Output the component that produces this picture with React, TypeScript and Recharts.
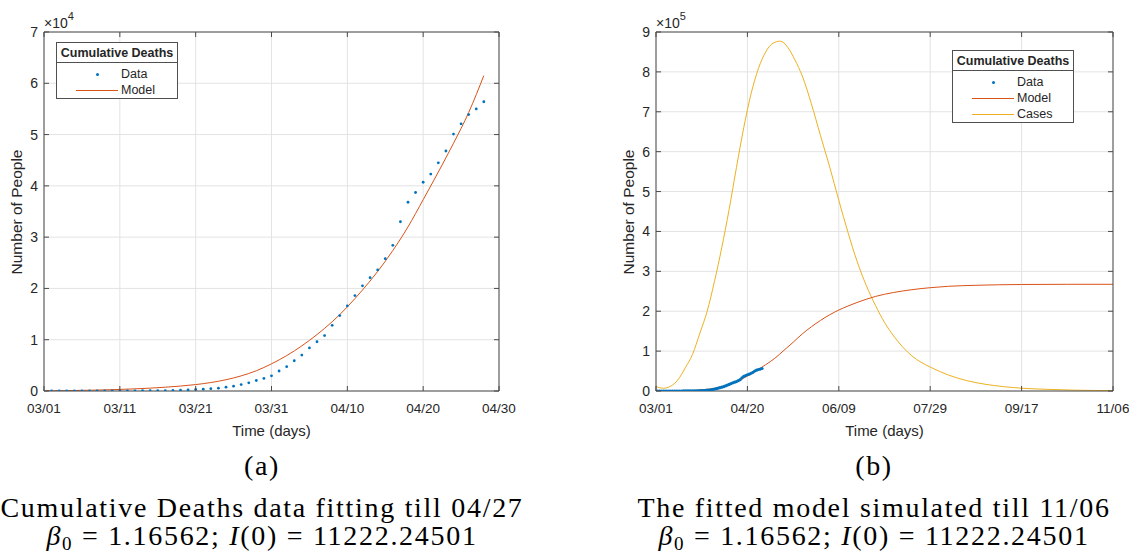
import React from "react";
import { ComposedChart, Line, XAxis, YAxis, CartesianGrid } from "recharts";

// cumulative deaths, one value per day starting 03/02 (day 1)
const DEATHS = [
  1, 6, 9, 11, 12, 15, 19, 22, 26, 30, 38, 41, 48, 57, 68, 86, 109, 150, 206,
  300, 350, 450, 550, 750, 950, 1250, 1600, 2050, 2450, 2950, 3900, 4750, 5900,
  7000, 8400, 9600, 10800, 12800, 14700, 16600, 18600, 20500, 22100, 23600,
  25800, 28400, 33000, 36800, 38700, 40700, 42300, 44500, 46800, 50100, 52100,
  53900, 55000, 56400,
];

// fitted model, panel (a)
const FIT_DAYS = [0, 2, 4, 6, 8, 10, 12, 14, 16, 18, 20, 22, 24, 26, 28, 30, 32, 34, 36, 38, 40, 42, 44, 46, 48, 50, 52, 54, 56, 58];
const FIT_DEATHS = [
  30, 60, 100, 150, 220, 310, 420, 560, 740, 960, 1250, 1650, 2200, 2950, 3950,
  5300, 6900, 8800, 11000, 13500, 16400, 19700, 23300, 27400, 32000, 37300,
  42700, 48300, 54300, 61500,
];

// simulated model, panel (b)
const SIM_DAYS = [0, 10, 20, 25, 30, 35, 40, 45, 50, 55, 60, 65, 70, 75, 80, 85, 90, 95, 100, 105, 110, 115, 120, 130, 140, 150, 160, 175, 200, 225, 250];
const SIM_DEATHS = [
  0, 300, 1200, 2900, 5300, 9900, 16400, 25300, 37500, 51000, 66000, 82000,
  102000, 122000, 143000, 161000, 177000, 191000, 203000, 213000, 222000,
  230000, 237000, 247000, 254000, 259000, 262500, 265000, 267000, 267500, 267500,
];

const CASE_DAYS = [0, 4, 8, 12, 16, 20, 24, 28, 32, 36, 40, 44, 48, 52, 56, 60, 64, 68, 72, 76, 80, 85, 90, 95, 100, 105, 110, 115, 120, 125, 130, 135, 140, 145, 150, 160, 170, 180, 190, 200, 215, 230, 250];
const CASES = [
  11000, 7000, 12000, 28000, 58000, 92000, 145000, 200000, 275000, 360000,
  455000, 560000, 660000, 745000, 808000, 850000, 872000, 877000, 862000,
  830000, 790000, 720000, 640000, 562000, 478000, 398000, 325000, 265000,
  215000, 172000, 138000, 110000, 88000, 72000, 60000, 40000, 26000, 17000,
  11000, 7000, 4000, 2000, 1000,
];

const A_X_TICKS = [0, 10, 20, 30, 40, 50, 60];
const A_X_LABELS = ["03/01", "03/11", "03/21", "03/31", "04/10", "04/20", "04/30"];
const A_Y_TICKS = [0, 10000, 20000, 30000, 40000, 50000, 60000, 70000];

const B_X_TICKS = [0, 50, 100, 150, 200, 250];
const B_X_LABELS = ["03/01", "04/20", "06/09", "07/29", "09/17", "11/06"];
const B_Y_TICKS = [0, 100000, 200000, 300000, 400000, 500000, 600000, 700000, 800000, 900000];

const BLUE = "#0072BD";
const ORANGE = "#D95319";
const YELLOW = "#EDB120";
const AXIS = "#4a4a4a";
const TXT = "#262626";
const GRID = "#e3e3e3";
const SANS = "'Liberation Sans', Arial, sans-serif";
const SERIF = "'Liberation Serif', 'Times New Roman', serif";

const dataRows = DEATHS.map((v, i) => ({ day: i + 1, deaths: v }));
const fitRows = FIT_DAYS.map((d, i) => ({ day: d, model: FIT_DEATHS[i] }));
const simRows = SIM_DAYS.map((d, i) => ({ day: d, model: SIM_DEATHS[i] }));
const caseRows = CASE_DAYS.map((d, i) => ({ day: d, cases: CASES[i] }));

const TICK_LEN = 5;

function bottomTick(ticks: number[], labels: string[]) {
  return (p: any) => {
    const i = ticks.indexOf(p.payload.value);
    return (
      <g>
        <line x1={p.x} x2={p.x} y1={p.y} y2={p.y - TICK_LEN} stroke={AXIS} />
        <text x={p.x} y={p.y + 22} textAnchor="middle" fontSize={13.5} fill={TXT} fontFamily={SANS}>
          {labels[i]}
        </text>
      </g>
    );
  };
}

function topTick(p: any) {
  return <line x1={p.x} x2={p.x} y1={p.y} y2={p.y + TICK_LEN} stroke={AXIS} />;
}

function leftTick(div: number) {
  return (p: any) => (
    <g>
      <line x1={p.x} x2={p.x + TICK_LEN} y1={p.y} y2={p.y} stroke={AXIS} />
      <text x={p.x - 6} y={p.y + 5} textAnchor="end" fontSize={14} fill={TXT} fontFamily={SANS}>
        {p.payload.value / div}
      </text>
    </g>
  );
}

function rightTick(p: any) {
  return <line x1={p.x - TICK_LEN} x2={p.x} y1={p.y} y2={p.y} stroke={AXIS} />;
}

type LegendItem = { label: string; color: string; kind: "dot" | "line" };

function LegendBox({ left, top, items }: { left: number; top: number; items: LegendItem[] }) {
  const titleH = 20;
  return (
    <div
      style={{
        position: "absolute",
        left,
        top,
        width: 122,
        height: titleH + 16 * items.length + 5,
        border: "1px solid #505050",
        background: "#fff",
        fontFamily: SANS,
        color: TXT,
        boxSizing: "border-box",
      }}
    >
      <div
        style={{
          height: titleH,
          lineHeight: titleH + "px",
          textAlign: "center",
          fontWeight: "bold",
          fontSize: 12.5,
          borderBottom: "1px solid #505050",
          boxSizing: "border-box",
          whiteSpace: "nowrap",
        }}
      >
        Cumulative Deaths
      </div>
      {items.map((it, i) => (
        <div key={it.label} style={{ position: "absolute", left: 0, top: titleH + 3 + 16 * i, height: 16, width: "100%" }}>
          {it.kind === "dot" ? (
            <span style={{ position: "absolute", left: 39, top: 6.5, width: 3, height: 3, borderRadius: 2, background: it.color }} />
          ) : (
            <span style={{ position: "absolute", left: 19, top: 7.5, width: 42, height: 1, background: it.color }} />
          )}
          <span style={{ position: "absolute", left: 64, top: 0, lineHeight: "16px", fontSize: 12.5 }}>{it.label}</span>
        </div>
      ))}
    </div>
  );
}

function AxisTitles({ plotLeft, plotRight }: { plotLeft: number; plotRight: number }) {
  return (
    <>
      <div
        style={{
          position: "absolute",
          left: (plotLeft + plotRight) / 2,
          top: 430,
          transform: "translate(-50%, -50%)",
          fontFamily: SANS,
          fontSize: 15,
          color: TXT,
          whiteSpace: "nowrap",
          lineHeight: 1,
        }}
      >
        Time (days)
      </div>
      <div
        style={{
          position: "absolute",
          left: plotLeft - 27,
          top: 211.5,
          transform: "translate(-50%, -50%) rotate(-90deg)",
          fontFamily: SANS,
          fontSize: 15.5,
          color: TXT,
          whiteSpace: "nowrap",
          lineHeight: 1,
        }}
      >
        Number of People
      </div>
    </>
  );
}

function Exponent({ left, power }: { left: number; power: number }) {
  return (
    <div style={{ position: "absolute", left, top: 16, fontFamily: SANS, fontSize: 14, color: TXT, lineHeight: 1, whiteSpace: "nowrap" }}>
      ×10<span style={{ fontSize: 11, position: "relative", top: -8 }}>{power}</span>
    </div>
  );
}

function Caption({ cx, tag, line }: { cx: number; tag: string; line: string }) {
  const base: React.CSSProperties = {
    position: "absolute",
    left: cx,
    transform: "translateX(-50%)",
    fontFamily: SERIF,
    fontSize: 28,
    lineHeight: "30px",
    height: 30,
    color: "#000",
    whiteSpace: "nowrap",
    letterSpacing: 1.7,
  };
  return (
    <>
      <div style={{ ...base, top: 451 }}>{tag}</div>
      <div style={{ ...base, top: 493 }}>{line}</div>
      <div style={{ ...base, top: 521 }}>
        <i>β</i>
        <span style={{ fontSize: 19, position: "relative", top: 5 }}>0</span> = 1.16562; <i>I</i>(0) = 11222.24501
      </div>
    </>
  );
}

function Frame({ xMax, xTicks, xLabels, yMax, yTicks, div }: any) {
  return [
    <CartesianGrid key="g" stroke={GRID} strokeWidth={1} />,
    <XAxis
      key="xb"
      xAxisId={0}
      type="number"
      dataKey="day"
      domain={[0, xMax]}
      ticks={xTicks}
      height={1}
      tickSize={0}
      tickMargin={0}
      tickLine={false}
      axisLine={{ stroke: AXIS }}
      tick={bottomTick(xTicks, xLabels)}
      interval={0}
      allowDataOverflow
    />,
    <XAxis
      key="xt"
      xAxisId="top"
      orientation="top"
      type="number"
      dataKey="day"
      domain={[0, xMax]}
      ticks={xTicks}
      height={1}
      tickSize={0}
      tickMargin={0}
      tickLine={false}
      axisLine={{ stroke: AXIS }}
      tick={topTick}
      interval={0}
      allowDataOverflow
    />,
    <YAxis
      key="yl"
      yAxisId={0}
      type="number"
      domain={[0, yMax]}
      ticks={yTicks}
      width={1}
      tickSize={0}
      tickMargin={0}
      tickLine={false}
      axisLine={{ stroke: AXIS }}
      tick={leftTick(div)}
      interval={0}
      allowDataOverflow
    />,
    <YAxis
      key="yr"
      yAxisId="right"
      orientation="right"
      type="number"
      domain={[0, yMax]}
      ticks={yTicks}
      width={1}
      tickSize={0}
      tickMargin={0}
      tickLine={false}
      axisLine={{ stroke: AXIS }}
      tick={rightTick}
      interval={0}
      allowDataOverflow
    />,
  ];
}

export default function App() {
  return (
    <div style={{ position: "absolute", left: 0, top: 0, width: 1129, height: 558, background: "#fff", overflow: "hidden" }}>
      {/* panel (a) */}
      <div style={{ position: "absolute", left: 0, top: 0 }}>
        <ComposedChart width={520} height={440} margin={{ top: 31, left: 43, right: 20, bottom: 48 }}>
          {Frame({ xMax: 60, xTicks: A_X_TICKS, xLabels: A_X_LABELS, yMax: 70000, yTicks: A_Y_TICKS, div: 10000 })}
          <Line
            data={fitRows}
            dataKey="model"
            type="monotone"
            stroke={ORANGE}
            strokeWidth={1}
            dot={false}
            isAnimationActive={false}
          />
          <Line
            data={dataRows}
            dataKey="deaths"
            stroke="none"
            dot={{ r: 1.4, fill: BLUE, stroke: "none" }}
            isAnimationActive={false}
          />
        </ComposedChart>
      </div>
      <Exponent left={44} power={4} />
      <AxisTitles plotLeft={44} plotRight={499} />
      <LegendBox
        left={56}
        top={42}
        items={[
          { label: "Data", color: BLUE, kind: "dot" },
          { label: "Model", color: ORANGE, kind: "line" },
        ]}
      />

      {/* panel (b) */}
      <div style={{ position: "absolute", left: 560, top: 0 }}>
        <ComposedChart width={569} height={440} margin={{ top: 31, left: 95, right: 15, bottom: 48 }}>
          {Frame({ xMax: 250, xTicks: B_X_TICKS, xLabels: B_X_LABELS, yMax: 900000, yTicks: B_Y_TICKS, div: 100000 })}
          <Line
            data={caseRows}
            dataKey="cases"
            type="monotone"
            stroke={YELLOW}
            strokeWidth={1}
            dot={false}
            isAnimationActive={false}
          />
          <Line
            data={simRows}
            dataKey="model"
            type="monotone"
            stroke={ORANGE}
            strokeWidth={1}
            dot={false}
            isAnimationActive={false}
          />
          <Line
            data={dataRows}
            dataKey="deaths"
            stroke="none"
            dot={{ r: 1.6, fill: BLUE, stroke: "none" }}
            isAnimationActive={false}
          />
        </ComposedChart>
      </div>
      <Exponent left={656} power={5} />
      <AxisTitles plotLeft={656} plotRight={1113} />
      <LegendBox
        left={952}
        top={50}
        items={[
          { label: "Data", color: BLUE, kind: "dot" },
          { label: "Model", color: ORANGE, kind: "line" },
          { label: "Cases", color: YELLOW, kind: "line" },
        ]}
      />

      <Caption cx={262} tag="(a)" line="Cumulative Deaths data fitting till 04/27" />
      <Caption cx={874} tag="(b)" line="The fitted model simulated till 11/06" />
    </div>
  );
}
